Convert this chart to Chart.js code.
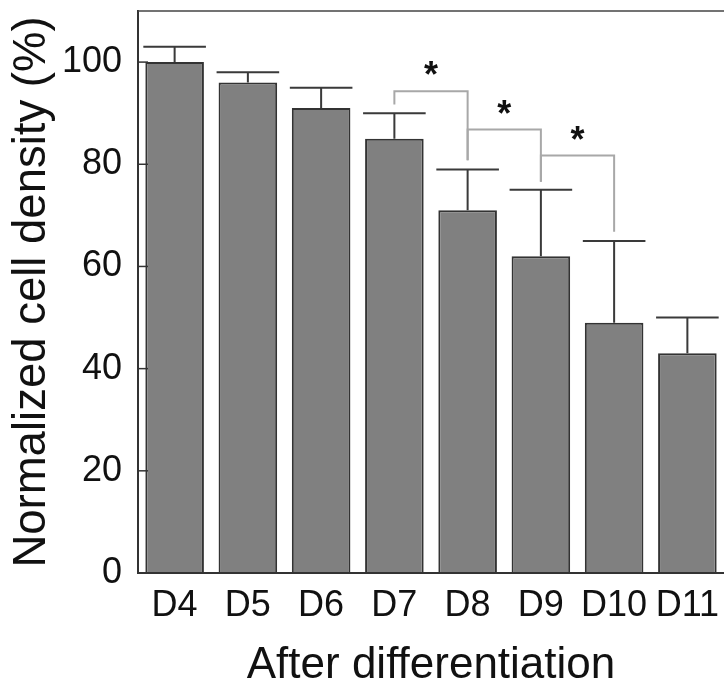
<!DOCTYPE html>
<html>
<head>
<meta charset="utf-8">
<script src="https://cdn.jsdelivr.net/npm/chart.js@4.4.1/dist/chart.umd.min.js"></script>
<style>
  html, body { margin: 0; padding: 0; background: #fff; }
  #wrap { width: 724px; height: 684px; position: relative; }
</style>
</head>
<body>
<div id="wrap"><canvas id="barChart"></canvas></div>
<script>
const categories = ['D4', 'D5', 'D6', 'D7', 'D8', 'D9', 'D10', 'D11'];
const density = [100, 96, 91, 85, 71, 62, 49, 43];
const errorUp = [3, 2, 4, 5, 8, 13, 16, 7];
const yTickValues = [0, 20, 40, 60, 80, 100];

// significance brackets between neighbouring days (category indexes)
const bracketPairs = [[3, 4], [4, 5], [5, 6]];
const bracketTop = [94.3, 86.8, 81.7];
const bracketLeftEnd = [91.7, 80.8, 76.6];
const bracketRightEnd = [80.8, 76.6, 66.8];
const bracketLabels = ['*', '*', '*'];

const FONT = "'Liberation Sans', Arial, sans-serif";

const extras = {
    id: 'extras',
    afterDatasetsDraw(chart) {
        const ctx = chart.ctx;
        const x = chart.scales.x, y = chart.scales.y;
        const area = chart.chartArea;
        ctx.save();

        // top of the frame
        ctx.strokeStyle = '#444';
        ctx.lineWidth = 1.5;
        ctx.beginPath();
        ctx.moveTo(area.left, area.top);
        ctx.lineTo(area.right, area.top);
        ctx.stroke();

        // tick marks pointing into the plot
        ctx.strokeStyle = '#333';
        yTickValues.forEach(v => {
            const py = y.getPixelForValue(v);
            ctx.beginPath();
            ctx.moveTo(area.left, py);
            ctx.lineTo(area.left + 10, py);
            ctx.stroke();
        });

        // error bars (upper only)
        const meta = chart.getDatasetMeta(0);
        ctx.strokeStyle = '#3a3a3a';
        ctx.lineWidth = 2;
        meta.data.forEach((bar, i) => {
            const top = y.getPixelForValue(density[i] + errorUp[i]);
            const half = bar.width / 2 + 2;
            ctx.beginPath();
            ctx.moveTo(bar.x, bar.y);
            ctx.lineTo(bar.x, top);
            ctx.moveTo(bar.x - half, top);
            ctx.lineTo(bar.x + half, top);
            ctx.stroke();
        });

        // brackets with stars
        ctx.strokeStyle = '#a8a8a8';
        ctx.lineWidth = 2;
        ctx.fillStyle = '#111';
        ctx.font = 'bold 36px ' + FONT;
        ctx.textAlign = 'center';
        ctx.textBaseline = 'alphabetic';
        bracketPairs.forEach(([a, b], k) => {
            const xa = x.getPixelForValue(a), xb = x.getPixelForValue(b);
            const yt = y.getPixelForValue(bracketTop[k]);
            ctx.beginPath();
            ctx.moveTo(xa, y.getPixelForValue(bracketLeftEnd[k]));
            ctx.lineTo(xa, yt);
            ctx.lineTo(xb, yt);
            ctx.lineTo(xb, y.getPixelForValue(bracketRightEnd[k]));
            ctx.stroke();
            ctx.fillText(bracketLabels[k], (xa + xb) / 2, yt - 4);
        });

        ctx.restore();
    }
};

var ctx = document.getElementById('barChart').getContext('2d');
var barChart = new Chart(ctx, {
    type: 'bar',
    data: {
        labels: categories,
        datasets: [{
            label: 'Normalized cell density',
            data: density,
            backgroundColor: '#808080',
            borderColor: '#333',
            borderWidth: 2,
            categoryPercentage: 1,
            barPercentage: 0.8,
        }],
    },
    options: {
        responsive: true,
        maintainAspectRatio: false,
        animation: false,
        layout: {
            padding: { left: 0, right: -4, top: 11, bottom: 0 }
        },
        scales: {
            x: {
                offset: true,
                grid: { display: false, drawTicks: false },
                border: { display: true, color: '#333', width: 2, z: 1 },
                ticks: {
                    color: '#111',
                    padding: 15,
                    maxRotation: 0,
                    autoSkip: false,
                    font: { size: 36, family: FONT, lineHeight: 1 },
                },
                title: {
                    display: true,
                    text: 'After differentiation',
                    color: '#111',
                    font: { size: 44, family: FONT, lineHeight: 1 },
                    padding: { top: 0, bottom: -4 },
                },
                afterFit: s => { s.height = 111; s.paddingLeft = 0; s.paddingRight = 0; },
            },
            y: {
                min: 0,
                max: 110,
                afterBuildTicks: s => { s.ticks = yTickValues.map(v => ({ value: v })); },
                grid: { drawOnChartArea: false, drawTicks: false },
                border: { display: true, color: '#333', width: 2 },
                ticks: {
                    color: '#111',
                    padding: 16,
                    font: { size: 36, family: FONT, lineHeight: 1 },
                },
                title: {
                    display: true,
                    text: 'Normalized cell density (%)',
                    color: '#111',
                    font: { size: 45.5, family: FONT, lineHeight: 1 },
                    padding: { top: 10, bottom: 0 },
                },
                afterFit: s => { s.width = 138; s.paddingTop = 0; s.paddingBottom = 0; },
            }
        },
        plugins: {
            legend: { display: false },
            tooltip: { enabled: false },
        }
    },
    plugins: [extras],
});
</script>
</body>
</html>
